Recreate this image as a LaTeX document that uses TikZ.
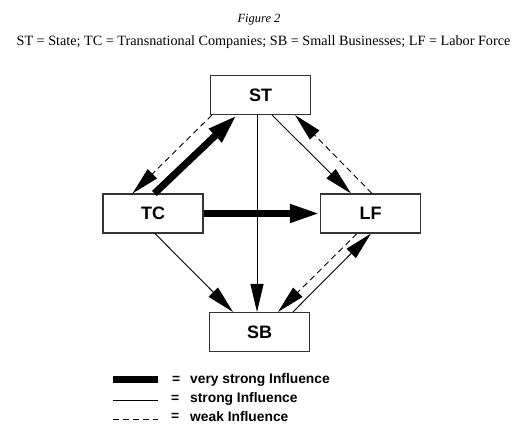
\documentclass[tikz,border=0pt]{standalone}
\usepackage{fontspec}
\setmainfont{Liberation Serif}
\newfontfamily\labfont{Liberation Sans}
\usetikzlibrary{arrows.meta,calc}
\tikzset{
  box/.style={draw=black!80, line width=1.1pt, fill=white, minimum width=100pt, minimum height=39pt, inner sep=0pt, font=\labfont\bfseries\fontsize{18}{20}\selectfont},
  strong/.style={line width=0.9pt, -{Triangle[length=28pt 0 0,width=13pt 0 0]}},
  weak/.style={line width=0.9pt, dash pattern=on 6pt off 4pt, -{Triangle[length=28pt 0 0,width=13pt 0 0]}},
  vstrong/.style={line width=7pt, -{Triangle[length=30pt 0 0,width=17pt 0 0]}},
  legtext/.style={anchor=west, inner sep=0pt, font=\labfont\bfseries\fontsize{13.8}{15}\selectfont},
}
\begin{document}
\begin{tikzpicture}[x=1pt,y=-1pt]
\useasboundingbox (0,0) rectangle (518,423);
\node[font=\itshape\fontsize{12.5}{14}\selectfont] (fig) at (259,20) {Figure 2};
\node[font=\fontsize{14.2}{16}\selectfont] (key) at (263.5,42) {ST = State; TC = Transnational Companies; SB = Small Businesses; LF = Labor Force};

\node[box] (ST) at (260.5,95) {ST};
\node[box] (TC) at (153,213.5) {TC};
\node[box] (LF) at (370.5,213.5) {LF};
\node[box] (SB) at (259.5,332) {SB};

% ST - TC
\draw[weak] ($(ST.south west)+(2,0)$) -- ($(TC.north west)+(30,0)$);
\draw[vstrong] ($(TC.north west)+(52,0)$) -- ($(ST.south west)+(27,0)$);
% ST - SB
\draw[strong] ($(ST.south)+(-3.5,0)$) -- ($(SB.north)+(-2.5,0)$);
% ST - LF
\draw[strong] ($(ST.south west)+(62,0)$) -- ($(LF.north west)+(31,0)$);
\draw[weak] ($(LF.north west)+(52,0)$) -- ($(ST.south east)+(-16,0)$);
% TC - LF
\draw[vstrong] (TC.east) -- (LF.west);
% TC - SB
\draw[strong] ($(TC.south)+(2,0)$) -- ($(SB.north west)+(24,0)$);
% LF - SB
\draw[weak] ($(LF.south west)+(37,0)$) -- ($(SB.north west)+(69,0)$);
\draw[strong] ($(SB.north west)+(84,0)$) -- ($(LF.south west)+(51,0)$);

% legend
\coordinate (l1a) at (113,379.5); \coordinate (l1b) at (158,379.5);
\coordinate (l2a) at (113,400); \coordinate (l2b) at (158,400);
\coordinate (l3a) at (113,419); \coordinate (l3b) at (158,419);
\draw[line width=7pt] (l1a) -- (l1b);
\draw[line width=0.9pt] (l2a) -- (l2b);
\draw[line width=0.9pt, dash pattern=on 6pt off 4pt] (l3a) -- (l3b);
\node[legtext] (e1) at (172,380) {=};
\node[legtext] (e2) at (171,399) {=};
\node[legtext] (e3) at (171,416.5) {=};
\node[legtext] (t1) at (190,380) {very strong Influence};
\node[legtext] (t2) at (190,399) {strong Influence};
\node[legtext] (t3) at (190,416.5) {weak Influence};
\end{tikzpicture}
\end{document}
